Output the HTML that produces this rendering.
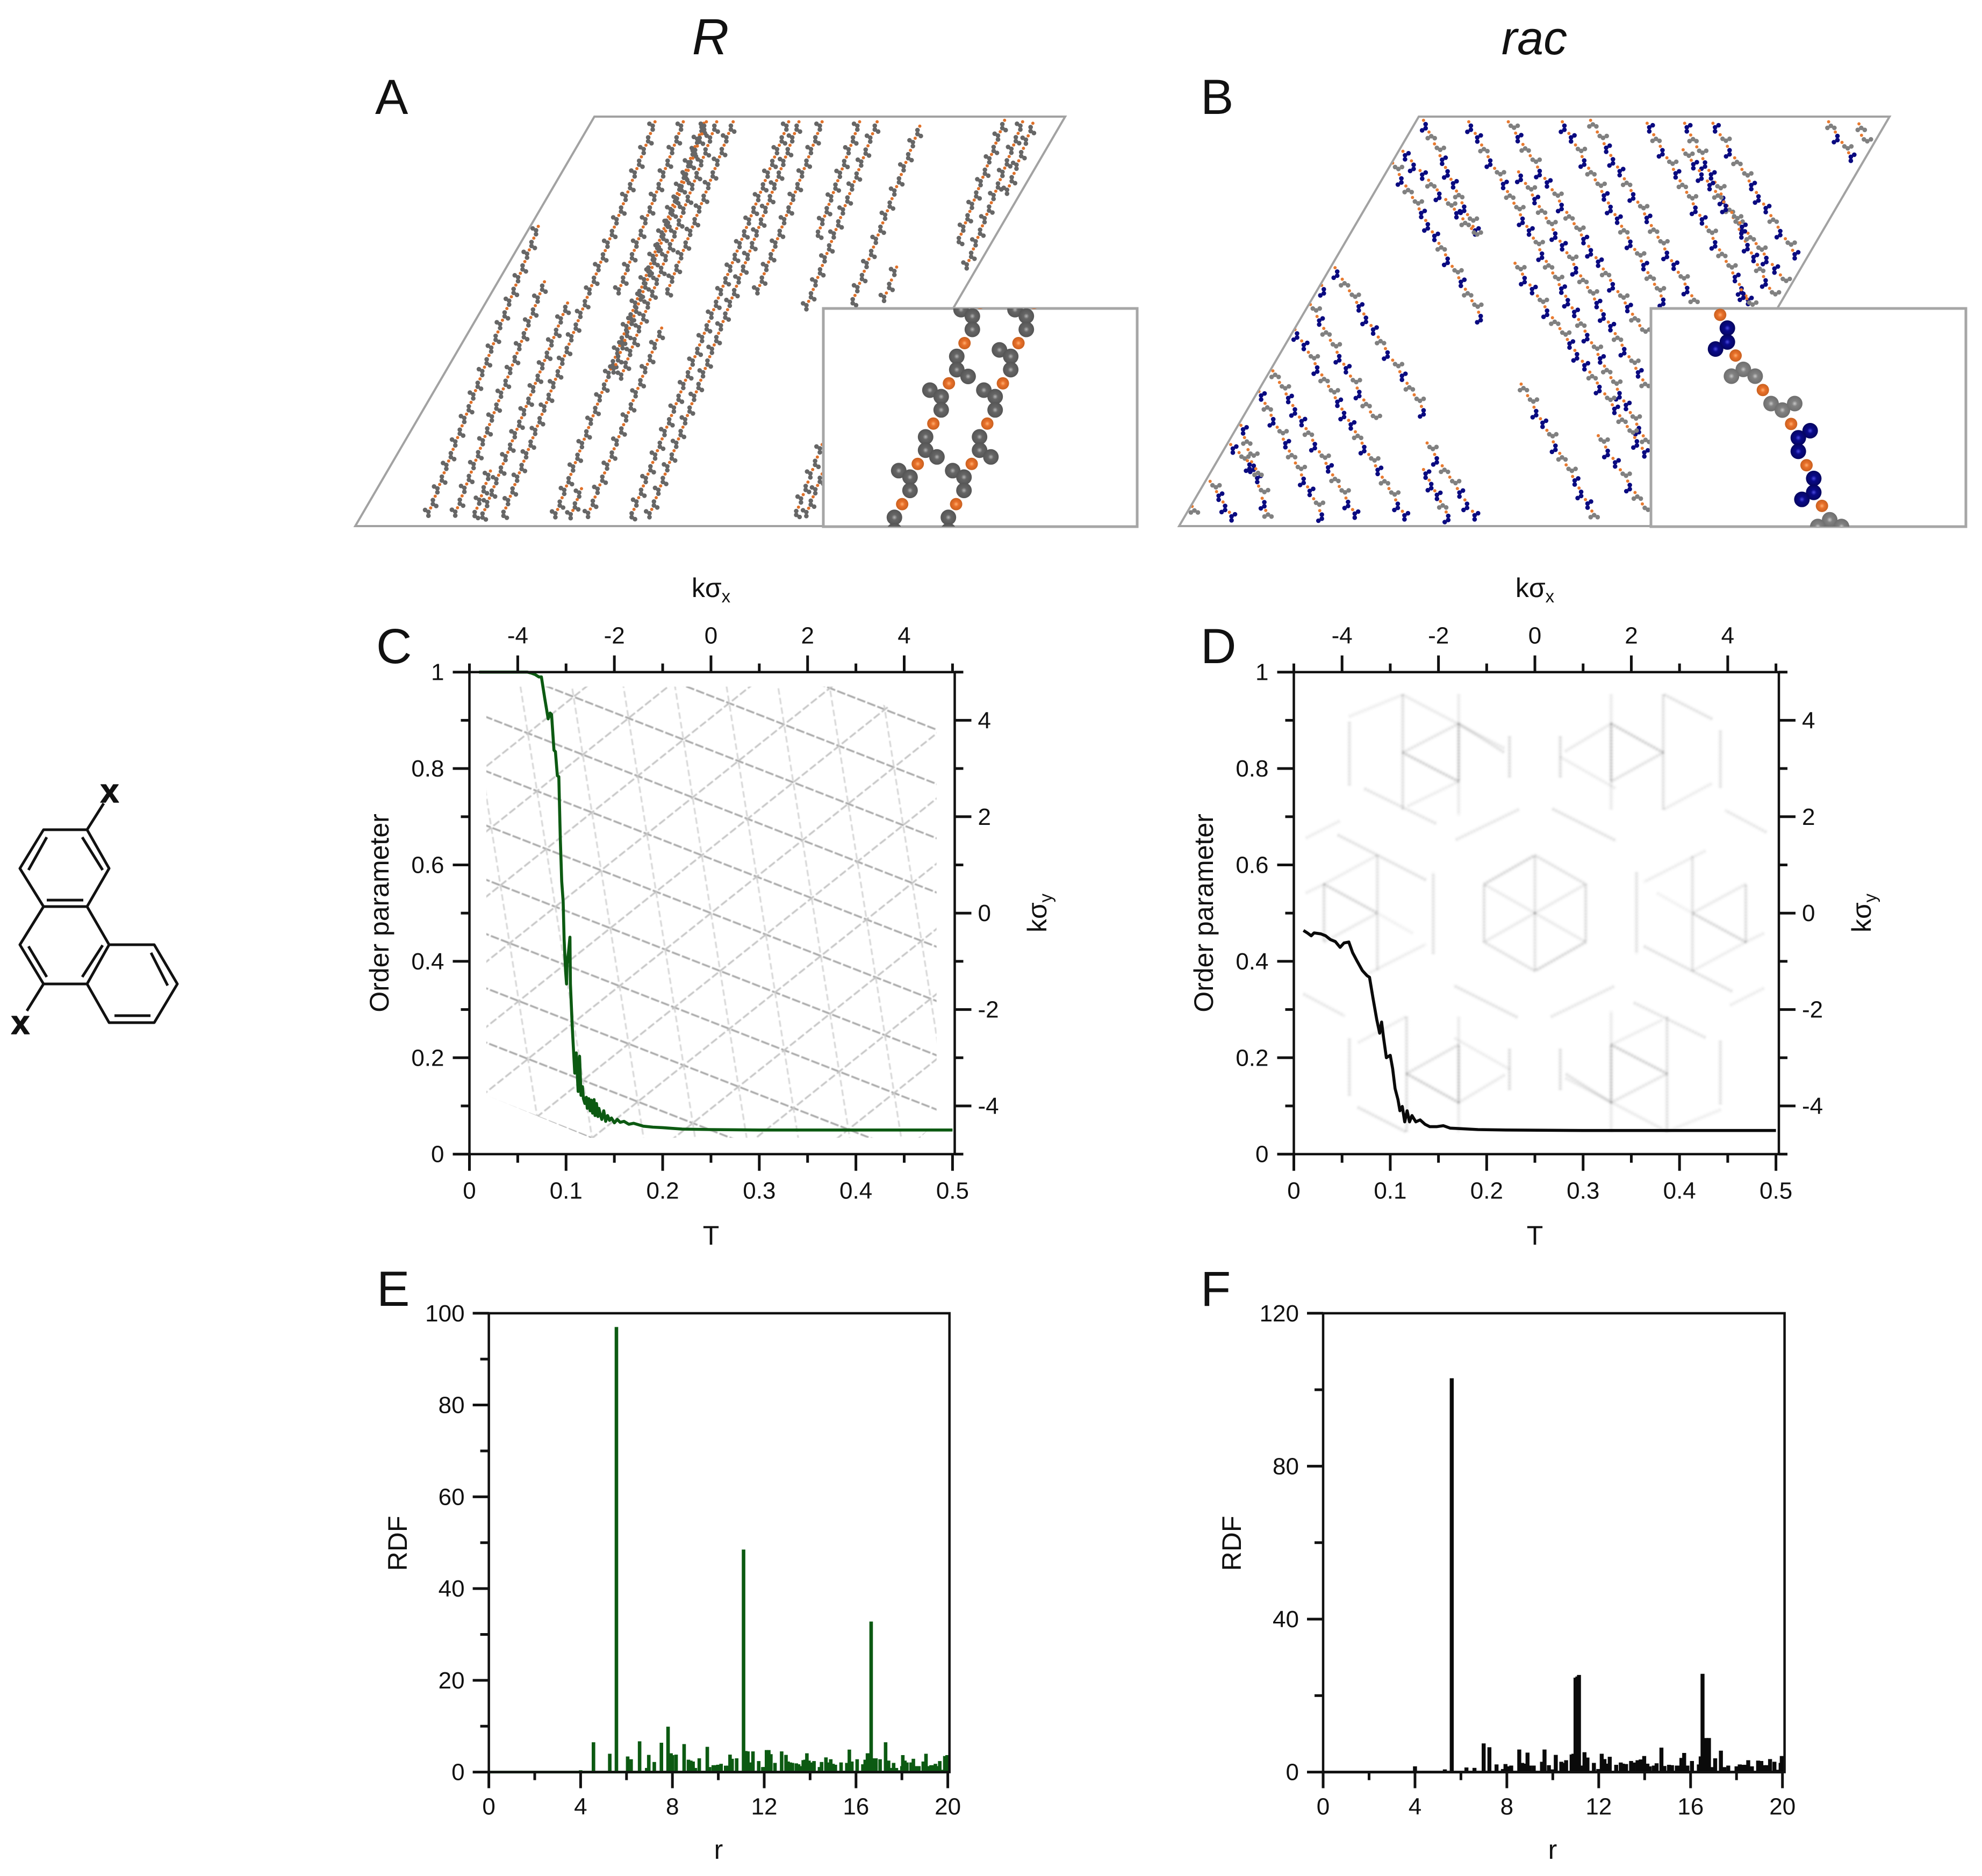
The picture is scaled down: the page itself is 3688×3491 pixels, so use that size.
<!DOCTYPE html>
<html lang="en">
<head>
<meta charset="utf-8">
<title>Order parameter and RDF of R and rac systems</title>
<style>
html,body{margin:0;padding:0;background:#fff;}
svg{display:block;}
text{font-family:"Liberation Sans",sans-serif;fill:#111;}
</style>
</head>
<body>
<svg id="fig" xmlns="http://www.w3.org/2000/svg" width="3688" height="3491" viewBox="0 0 3688 3491">
  <defs>
    <radialGradient id="gGray"><stop offset="0" stop-color="#b5b5b5"/><stop offset=".35" stop-color="#666"/><stop offset="1" stop-color="#555"/></radialGradient>
    <radialGradient id="gLight"><stop offset="0" stop-color="#c8c8c8"/><stop offset=".35" stop-color="#828282"/><stop offset="1" stop-color="#6e6e6e"/></radialGradient>
    <radialGradient id="gOrange"><stop offset="0" stop-color="#ffb070"/><stop offset=".4" stop-color="#e9702a"/><stop offset="1" stop-color="#c9601f"/></radialGradient>
    <radialGradient id="gNavy"><stop offset="0" stop-color="#4a4ae0"/><stop offset=".35" stop-color="#0a0a8a"/><stop offset="1" stop-color="#05055f"/></radialGradient>
    <clipPath id="clipA"><polygon points="1106,217 1982,217 1537,979 661,979"/></clipPath>
    <clipPath id="clipB"><polygon points="2640,217 3516,217 3070,979 2194,979"/></clipPath>
    <clipPath id="clipInsetA"><rect x="1532" y="574" width="584" height="406"/></clipPath>
    <clipPath id="clipInsetB"><rect x="3072" y="574" width="586" height="406"/></clipPath>
    <filter id="soft" x="-5%" y="-5%" width="110%" height="110%"><feGaussianBlur stdDeviation="2.2"/></filter>
    <filter id="softLattice" x="-5%" y="-5%" width="110%" height="110%"><feGaussianBlur stdDeviation="0.9"/></filter>
  </defs>

  <text x="1322" y="101" font-size="95" font-style="italic" text-anchor="middle">R</text>
  <text x="2855" y="101" font-size="88" font-style="italic" text-anchor="middle">rac</text>
  <text x="698" y="212" font-size="92">A</text>
  <text x="2234" y="212" font-size="92">B</text>
  <text x="700" y="1234" font-size="92">C</text>
  <text x="2234" y="1234" font-size="92">D</text>
  <text x="701" y="2430" font-size="92">E</text>
  <text x="2234" y="2430" font-size="92">F</text>

  <g id="molecule" fill="none" stroke="#111" stroke-width="5" stroke-linejoin="round">
    <path d="M81 1544L162 1544L203 1616L162 1687L81 1687L37 1616ZM81 1687L37 1758L81 1831L162 1831L203 1758L162 1687M203 1758L287 1758L330 1831L287 1903L203 1903L162 1831M162 1544L193 1495M81 1831L50 1881"/>
    <path d="M87 1558L53 1619M153 1558L191 1619M87 1675L155 1675M53 1761L87 1818M191 1759L153 1818M281 1773L312 1834M213 1890L280 1890"/>
    <text x="204" y="1493" font-size="62" font-weight="bold" text-anchor="middle" stroke="#111" stroke-width="1.5">x</text>
    <text x="38" y="1924" font-size="62" font-weight="bold" text-anchor="middle" stroke="#111" stroke-width="1.5">x</text>
  </g>

  <g id="panelA">
    <g id="chainsA" clip-path="url(#clipA)"></g>
    <polygon points="1106,217 1982,217 1537,979 661,979" fill="none" stroke="#a2a2a2" stroke-width="4"/>
    <rect x="1532" y="574" width="584" height="406" fill="#fff" stroke="#a6a6a6" stroke-width="5"/>
    <g id="insetA" clip-path="url(#clipInsetA)"></g>
  </g>
  <g id="panelB">
    <g id="chainsB" clip-path="url(#clipB)"></g>
    <polygon points="2640,217 3516,217 3070,979 2194,979" fill="none" stroke="#a2a2a2" stroke-width="4"/>
    <rect x="3072" y="574" width="586" height="406" fill="#fff" stroke="#a6a6a6" stroke-width="5"/>
    <g id="insetB" clip-path="url(#clipInsetB)"></g>
  </g>

  <g id="panelC"></g>
  <g id="panelD"></g>
  <g id="panelE"></g>
  <g id="panelF"></g>

  <g font-size="50">
    <text x="1323" y="1111" text-anchor="middle">kσ<tspan font-size="33" dy="10">x</tspan></text>
    <text x="2856" y="1111" text-anchor="middle">kσ<tspan font-size="33" dy="10">x</tspan></text>
    <text x="1323" y="2316" text-anchor="middle">T</text>
    <text x="2856" y="2316" text-anchor="middle">T</text>
    <text transform="translate(723,1699) rotate(-90)" text-anchor="middle">Order parameter</text>
    <text transform="translate(2257,1699) rotate(-90)" text-anchor="middle">Order parameter</text>
    <text transform="translate(1947,1699) rotate(-90)" text-anchor="middle">kσ<tspan font-size="33" dy="10">y</tspan></text>
    <text transform="translate(3481,1699) rotate(-90)" text-anchor="middle">kσ<tspan font-size="33" dy="10">y</tspan></text>
    <text x="1337" y="3459" text-anchor="middle">r</text>
    <text x="2889" y="3459" text-anchor="middle">r</text>
    <text transform="translate(757,2872) rotate(-90)" text-anchor="middle">RDF</text>
    <text transform="translate(2309,2872) rotate(-90)" text-anchor="middle">RDF</text>
  </g>
</svg>

<script>
// ---------- chart data ----------
const tempTicks = [0, 0.1, 0.2, 0.3, 0.4, 0.5];
const tempMinorTicks = [0.05, 0.15, 0.25, 0.35, 0.45];
const orderTicks = [0, 0.2, 0.4, 0.6, 0.8, 1];
const orderMinorTicks = [0.1, 0.3, 0.5, 0.7, 0.9];
const waveTicks = [-4, -2, 0, 2, 4];
const waveMinorTicks = [-5, -3, -1, 1, 3, 5];
const radiusTicks = [0, 4, 8, 12, 16, 20];
const radiusMinorTicks = [2, 6, 10, 14, 18];
const rdfTicksE = [0, 20, 40, 60, 80, 100];
const rdfMinorTicksE = [10, 30, 50, 70, 90];
const rdfTicksF = [0, 40, 80, 120];
const rdfMinorTicksF = [20, 60, 100];

const temperatureC = [.01,.06,.064,.068,.072,.0745,.078,.0815,.0835,.085,.0875,.089,.091,.0925,.094,.0955,.097,.098,.0995,.1005,.101,.1025,.104,.1045,.1065,.109,.1105,.1125,.114,.1155,.117,.118,.1195,.121,.122,.1235,.125,.126,.1275,.129,.13,.1315,.133,.134,.1355,.137,.139,.141,.143,.145,.147,.15,.153,.156,.16,.165,.17,.18,.19,.2,.22,.25,.3,.4,.5];
const orderC = [1,1,.998,.995,.99,.99,.945,.903,.915,.912,.838,.835,.785,.783,.658,.566,.524,.445,.38,.353,.395,.418,.45,.353,.26,.168,.21,.13,.203,.122,.14,.115,.105,.118,.095,.115,.09,.112,.085,.113,.08,.105,.078,.095,.082,.072,.09,.068,.08,.07,.075,.065,.072,.066,.068,.062,.064,.058,.056,.055,.052,.051,.05,.05,.05];

const temperatureD = [.01,.014,.018,.021,.028,.033,.038,.043,.048,.052,.057,.061,.066,.071,.076,.0785,.082,.086,.089,.091,.093,.096,.1,.1025,.105,.108,.11,.1125,.115,.1175,.12,.1225,.1265,.131,.136,.141,.148,.155,.162,.172,.191,.22,.3,.5];
const orderD = [.464,.459,.453,.459,.457,.453,.445,.441,.429,.438,.44,.418,.399,.381,.37,.367,.325,.279,.251,.274,.242,.2,.205,.177,.136,.113,.09,.099,.067,.09,.067,.08,.067,.071,.062,.057,.057,.059,.054,.053,.051,.05,.049,.049];

const radiusE = [4.0,4.56,5.27,5.56,6.05,6.2,6.57,6.88,6.97,7.21,
  7.52,7.81,7.94,8.0,8.16,8.51,8.7,8.8,8.9,9.0,
  9.17,9.52,9.62,9.78,9.88,9.98,10.12,10.32,10.42,10.51,
  10.6,10.8,11.1,11.2,11.29,11.39,11.51,11.76,11.94,12.02,
  12.1,12.2,12.29,12.47,12.76,12.95,13.04,13.14,13.23,13.4,
  13.5,13.58,13.7,13.78,13.86,13.95,14.05,14.17,14.41,14.5,
  14.69,14.78,14.9,15.0,15.1,15.35,15.6,15.71,15.82,16.05,
  16.3,16.4,16.5,16.57,16.66,16.8,16.87,17.05,17.29,17.42,
  17.52,17.64,17.76,17.9,18.0,18.04,18.13,18.22,18.4,18.5,
  18.64,18.74,18.93,19.05,19.17,19.27,19.38,19.46,19.55,19.65,
  19.77,19.87,19.97];
const rdfE = [0.4,6.5,4.0,97,3.4,2.8,6.7,0.9,3.75,2.2,
  6.4,9.9,4.1,3.7,3.8,6.1,2.7,2.5,2.3,0.9,
  3.0,5.5,1.1,1.5,1.5,1.6,1.8,1.4,1.4,3.8,
  2.9,3.0,48.5,4.6,4.5,2.1,4.5,2.4,1.1,1.1,
  4.8,4.8,3.9,2.0,4.5,3.75,2.3,2.1,2.0,1.9,
  1.7,1.3,2.6,2.7,4.1,2.5,2.1,2.4,1.1,2.2,
  3.2,2.1,2.8,1.8,1.6,2.1,2.0,4.9,2.3,2.8,
  1.7,2.7,4.1,4.1,32.8,3.0,3.0,2.8,6.5,2.5,
  0.9,2.0,0.9,0.4,1.3,3.7,2.5,2.1,2.1,2.9,
  1.3,1.3,2.3,4.0,1.3,1.5,1.5,1.8,1.3,2.4,
  0.5,3.5,3.7];

const radiusF = [4.0,4.39,4.58,5.3,5.6,6.24,6.59,6.99,7.24,7.55,
  7.83,7.94,8.03,8.19,8.54,8.67,8.77,8.9,9.0,9.17,
  9.53,9.64,9.83,9.97,10.13,10.37,10.44,10.58,10.82,10.9,
  10.99,11.07,11.14,11.25,11.38,11.51,11.79,11.98,12.13,12.25,
  12.32,12.48,12.76,12.96,13.05,13.19,13.41,13.52,13.69,13.83,
  13.98,14.12,14.22,14.4,14.52,14.73,14.86,15.06,15.19,15.4,
  15.49,15.6,15.72,15.86,16.06,16.36,16.44,16.52,16.67,16.8,
  16.93,17.07,17.32,17.47,17.64,18.0,18.14,18.27,18.4,18.51,
  18.67,18.94,19.08,19.21,19.32,19.46,19.65,19.81,19.92,19.97];
const rdfF = [1.5,0.3,0.3,0.7,103,1.2,1.1,7.5,6.5,2.0,
  0.8,2.1,1.5,1.7,5.9,2.4,2.2,5.1,1.7,1.7,
  2.7,5.9,1.8,0.7,4.5,2.7,2.4,3.1,4.6,4.8,
  24.7,25,25.4,1.7,5.2,3.8,2.4,0.8,4.8,3.4,
  2.2,4.0,1.9,2.5,2.2,2.1,2.9,2.5,3.1,3.3,
  4.2,2.2,1.5,1.7,2.3,6.4,1.6,1.9,1.8,1.7,
  1.7,3.7,5.0,1.7,2.9,2.0,4.1,25.7,8.9,8.9,
  1.3,3.6,5.6,1.3,1.7,1.5,2.0,1.9,1.9,3.1,
  1.5,3.0,2.9,1.8,1.8,3.4,2.7,0.6,2.4,4.2];

// scattering pattern of panel D: half-plane streak list in lattice units (i1,j1,i2,j2,strength); the other half is point-symmetric
const streaksD = [
  [0,2,2,1,.6],[2,1,2,-1,.7],[2,-1,0,-2,.8],[0,0,0,2,.6],[0,0,2,1,.45],[0,0,2,-1,.45],
  [4,1.4,4,-1.4,.6],[-3.1,2.54,-.6,3.6,.5],[.7,3.6,3.2,2.5,.6],
  [-7.75,2.7,-4.3,1.15,.6],[-9,2.6,-7.65,3.2,.4],[-6.7,-2.15,-4.3,-1.08,.4],[-9.1,-2.8,-7.5,-3.55,.5],
  [-8.3,1,-8.3,-1,.7],[-8.3,1,-6.2,0,.8],[-8.3,-1,-6.2,0,.45],[-6.2,2,-6.2,-2,.6],[-8.3,1,-6.2,2,.4],[-9,.7,-8.3,1,.4],[-6.2,0,-4.8,-.7,.3],
  [-5.2,5.55,-3,6.55,.55],[-3,6.55,-3,4.55,.9],[-5.2,5.55,-3,4.55,.9],[-5.2,7.55,-5.2,3.55,.65],[-3,7.55,-3,3.4,.45],[-3,6.55,-1.2,5.55,.6],[-5.2,7.55,-1.2,5.7,.45],[-7.3,6.8,-5.2,7.55,.35],[-7.3,6.6,-7.3,4.4,.6],[-1,6.1,-1,4.7,.7],[-5,3.7,-3,4.55,.4],[-6.7,4.3,-3.9,3.1,.55],
  [3,6.55,3,4.55,.9],[3,6.55,5.05,5.55,.9],[3,4.55,5.05,5.55,.6],[5.05,7.55,5.05,3.55,.65],[3,7.55,3,3.6,.45],[1,6.1,1,4.7,.7],[1.2,5.6,3,6.55,.45],[5.1,7.55,7,6.7,.6],[7.3,6.3,7.3,4.3,.6],[1,5.4,3.2,4.3,.4],[5.1,3.6,7,4.5,.4]
];

// ---------- helpers ----------
const NS = 'http://www.w3.org/2000/svg';
function make(parent, tag, attrs) {
  const el = document.createElementNS(NS, tag);
  for (const k in attrs) el.setAttribute(k, attrs[k]);
  parent.appendChild(el);
  return el;
}
const INK = '#111';

function drawFrame(g, b, tag) {
  const el = make(g, 'rect', {x: b.left, y: b.top, width: b.right - b.left, height: b.bottom - b.top, fill: 'none', stroke: INK, 'stroke-width': 4.5});
  
  
}
function tick(g, x1, y1, x2, y2, name) {
  const el = make(g, 'line', {x1: x1, y1: y1, x2: x2, y2: y2, stroke: INK, 'stroke-width': 5});
  
  
}
function label(g, x, y, str, anchor, name) {
  const el = make(g, 'text', {x: x, y: y, 'font-size': 44, 'text-anchor': anchor});
  el.textContent = str;
  
  
}

// ---------- order parameter panels ----------
function drawOrderPanel(id, tag, b, temps, orders, color, pattern) {
  const g = document.getElementById(id);
  const xT = t => b.left + (t / 0.5) * (b.x05 - b.left);
  const yV = v => b.bottom - v * (b.bottom - b.top);
  const xK = k => xT((k + 5) / 20);
  const yK = k => yV((k + 5) / 10);
  pattern(g, xK, yK);

  let d = '';
  temps.forEach((t, i) => { d += (i ? 'L' : 'M') + xT(t).toFixed(1) + ' ' + yV(orders[i]).toFixed(1); });
  const line = make(g, 'path', {d: d, fill: 'none', stroke: color, 'stroke-width': 5.6, 'stroke-linejoin': 'round'});
  
  

  drawFrame(g, b, tag);
  const M = 31, m = 16;
  tempTicks.forEach(t => {
    tick(g, xT(t), b.bottom, xT(t), b.bottom + M, 'x-tick');
    label(g, xT(t), b.bottom + 83, String(t), 'middle', 'x-tick-label');
  });
  tempMinorTicks.forEach(t => tick(g, xT(t), b.bottom, xT(t), b.bottom + m, 'x-minor-tick'));
  orderTicks.forEach(v => {
    tick(g, b.left - M, yV(v), b.left, yV(v), 'y-tick');
    label(g, b.left - 47, yV(v) + 15, String(v), 'end', 'y-tick-label');
  });
  orderMinorTicks.forEach(v => tick(g, b.left - m, yV(v), b.left, yV(v), 'y-minor-tick'));
  waveTicks.forEach(k => {
    tick(g, xK(k), b.top - M, xK(k), b.top, 'top-x-tick');
    label(g, xK(k), b.top - 53, String(k), 'middle', 'top-x-tick-label');
    tick(g, b.right, yK(k), b.right + M, yK(k), 'right-y-tick');
    label(g, b.right + 43, yK(k) + 15, String(k), 'start', 'right-y-tick-label');
  });
  waveMinorTicks.forEach(k => {
    tick(g, xK(k), b.top - m, xK(k), b.top, 'top-x-minor-tick');
    tick(g, b.right, yK(k), b.right + m, yK(k), 'right-y-minor-tick');
  });
}

function latticePattern(g, xK, yK) {
  const clip = make(document.querySelector('defs'), 'clipPath', {id: 'clipLattice'});
  const corners = [[-4.65,4.35],[-4.22,4.7],[2.61,4.7],[4.67,3.89],[4.67,-4.33],[4.33,-4.66],[-2.5,-4.66],[-4.65,-3.78]];
  make(clip, 'polygon', {points: corners.map(c => xK(c[0]).toFixed(1) + ',' + yK(c[1]).toFixed(1)).join(' ')});
  const layer = make(g, 'g', {'clip-path': 'url(#clipLattice)', fill: 'none'});
  
  
  const soft = make(layer, 'g', {filter: 'url(#softLattice)'});
  
  
  const a = [1.137, -0.444], b = [-0.19, 1.2], c = [a[0] + b[0], a[1] + b[1]];
  const families = [
    {dir: a, step: b, color: '#a8a8a8', dash: '16 4', width: 3.4},
    {dir: b, step: a, color: '#d6d6d6', dash: '12 6', width: 3},
    {dir: c, step: a, color: '#c4c4c4', dash: '14 5', width: 3.2}
  ];
  families.forEach(f => {
    for (let n = -10; n <= 10; n++) {
      const p = [n * f.step[0], n * f.step[1]];
      const s = make(soft, 'line', {
        x1: xK(p[0] - 12 * f.dir[0]), y1: yK(p[1] - 12 * f.dir[1]),
        x2: xK(p[0] + 12 * f.dir[0]), y2: yK(p[1] + 12 * f.dir[1]),
        stroke: f.color, 'stroke-width': f.width, 'stroke-dasharray': f.dash
      });
      
      
    }
  });
}

function hexPattern(g, xK, yK) {
  const layer = make(g, 'g', {fill: 'none', stroke: '#5c5c5c', 'stroke-width': 4.5, 'stroke-dasharray': '3 3', filter: 'url(#soft)'});
  
  
  const U = 0.527, V = 0.6;
  [1, -1].forEach(sign => {
    streaksD.forEach(s => {
      const el = make(layer, 'line', {
        x1: xK(sign * s[0] * U), y1: yK(sign * s[1] * V),
        x2: xK(sign * s[2] * U), y2: yK(sign * s[3] * V),
        'stroke-opacity': (s[4] * 0.6).toFixed(2)
      });
      
      
    });
  });
}

// ---------- RDF panels ----------
function drawRdfPanel(id, tag, b, rs, vs, yMax, major, minor, color, barWidth) {
  const g = document.getElementById(id);
  const xR = r => b.left + (r / 20) * (b.x20 - b.left);
  const yR = v => b.bottom - (v / yMax) * (b.bottom - b.top);
  const base = make(g, 'line', {x1: xR(0), y1: yR(0), x2: xR(20), y2: yR(0), stroke: color, 'stroke-width': 5});
  
  
  rs.forEach((r, i) => {
    const bar = make(g, 'line', {x1: xR(r), y1: yR(0), x2: xR(r), y2: yR(vs[i]), stroke: color, 'stroke-width': barWidth});
    
    
  });
  drawFrame(g, b, tag);
  radiusTicks.forEach(r => {
    tick(g, xR(r), b.bottom, xR(r), b.bottom + 30, 'x-tick');
    label(g, xR(r), b.bottom + 79, String(r), 'middle', 'x-tick-label');
  });
  radiusMinorTicks.forEach(r => tick(g, xR(r), b.bottom, xR(r), b.bottom + 15, 'x-minor-tick'));
  major.forEach(v => {
    tick(g, b.left - 30, yR(v), b.left, yR(v), 'y-tick');
    label(g, b.left - 45, yR(v) + 15, String(v), 'end', 'y-tick-label');
  });
  minor.forEach(v => tick(g, b.left - 16, yR(v), b.left, yR(v), 'y-minor-tick'));
}

// ---------- molecular chains (panels A and B) ----------
const motifR = {
  L: [[-35.4,12.6],[-14.4,24.7],[-14.4,49.4]],
  R: [[-14.4,24.7],[-14.4,49.4],[6.7,62]]
};
const motifRac = {
  N1: {a: [[13.4,24.7],[13.4,50.5],[-8.6,63.6]], next: [28.7,75.7], kind: 'navy'},
  G1: {a: [[14.4,25.8],[-7.7,38.4],[36.4,38.4]], next: [50.7,64.2], kind: 'gray'},
  G2: {a: [[15.3,25.2],[36.4,37.3],[59.3,25.2]], next: [52.6,63.1], kind: 'gray'},
  N2: {a: [[35.4,12.6],[13.4,25.8],[13.4,51]], next: [28.7,76.8], kind: 'navy'}
};
const orderRac = ['N1','G1','G2','N2','N1','N2','G1','N1','G2','N2','G1','G2','N1','N2','G2'];
const chainsA = [[160,1435,378,440],[212,1435,390,628],[250,1438,285,1270],[265,1440,435,700],[306,1435,605,85],[407,1440,700,90],[437,1440,462,1330],[470,1440,618,785],[555,1440,865,85],[590,1440,885,85],[530,680,660,85],[535,970,725,85],[520,950,705,85],[625,680,757,85],[800,680,930,85],[895,735,1037,85],[918,485,1003,85],[985,715,1120,100],[1045,710,1075,578],[1192,505,1285,80],[1207,595,1320,85],[1285,345,1340,90],[875,1435,930,1180],[895,1435,930,1280]];
const chainsB = [[490,80,597,480],[578,85,930,1190],[655,85,925,815],[760,85,965,715],[815,80,1025,715],[925,90,1130,715],[998,90,1175,690],[1053,90,1222,560],[995,180,1200,640],[1278,85,1330,225],[1337,92,1347,170],[430,225,610,770],[450,185,600,480],[675,255,930,1000],[668,565,930,1230],[318,580,500,1090],[292,640,305,680],[270,705,400,1110],[240,790,462,1445],[197,930,365,1440],[170,1000,300,1445],[135,1115,190,1445],[115,1180,180,1290],[75,1305,125,1445],[40,1390,57,1425],[680,975,830,1445],[497,1175,600,1445],[490,1265,545,1445],[1108,655,1130,715],[830,1150,930,1420]];

function atom(parent, x, y, r, fill, name) {
  const el = make(parent, 'circle', {cx: x.toFixed(1), cy: y.toFixed(1), r: r, fill: fill});
  
  
}
const SCALE = 0.294;

function drawChainsA() {
  const g = document.getElementById('chainsA');
  const fx = z => 640 + z / 1.0453, fy = z => 180 + z / 1.8233;
  chainsA.forEach((c, ci) => {
    const x0 = fx(c[2]), y0 = fy(c[3]), x1 = fx(c[0]), y1 = fy(c[1]);
    const len = Math.hypot(x1 - x0, y1 - y0), n = Math.max(1, Math.round(len / 23.6));
    for (let i = 0; i < n; i++) {
      const px = x0 + (x1 - x0) * i / n, py = y0 + (y1 - y0) * i / n;
      atom(g, px, py, 3, '#e07028', 'bridge-atom');
      const m = ((i + ci) % 2 === 0) ? motifR.L : motifR.R;
      m.forEach(o => atom(g, px + o[0] * SCALE, py + o[1] * SCALE, 4.3, '#666', 'ring-atom'));
    }
  });
}
function drawChainsB() {
  const g = document.getElementById('chainsB');
  const fx = z => 2180 + z / 1.0453, fy = z => 180 + z / 1.8233;
  chainsB.forEach((c, ci) => {
    const x0 = fx(c[0]), y0 = fy(c[1]), x1 = fx(c[2]), y1 = fy(c[3]);
    const len = Math.hypot(x1 - x0, y1 - y0), n = Math.max(1, Math.round(len / 24.5));
    for (let i = 0; i < n; i++) {
      const px = x0 + (x1 - x0) * i / n, py = y0 + (y1 - y0) * i / n;
      atom(g, px, py, 3, '#e87a30', 'bridge-atom');
      const m = motifRac[orderRac[(i + ci * 4) % orderRac.length]];
      m.a.forEach(o => atom(g, px + o[0] * SCALE, py + o[1] * SCALE, 4.3, m.kind === 'navy' ? '#0a0a80' : '#808080', m.kind === 'navy' ? 'navy-ring-atom' : 'gray-ring-atom'));
    }
  });
}
function drawInsets() {
  const ga = document.getElementById('insetA');
  const seqs = [['L','R','L','R','L','R'], ['L','L','L','R','L','R']];
  seqs.forEach((seq, s) => {
    let x = 1794.7 + 29 + s * 100.4, y = 638.5 - 74.9;
    seq.forEach(t => {
      atom(ga, x, y, 11.5, 'url(#gOrange)', 'inset-bridge-atom');
      motifR[t].forEach(o => atom(ga, x + o[0], y + o[1], 14.5, 'url(#gGray)', 'inset-ring-atom'));
      x -= 29; y += 74.9;
    });
  });
  const gb = document.getElementById('insetB');
  let x = 3200.8, y = 585.9;
  ['N1','G1','G2','N2','N1','G1'].forEach(t => {
    const m = motifRac[t];
    atom(gb, x, y, 11.5, 'url(#gOrange)', 'inset-bridge-atom');
    m.a.forEach(o => atom(gb, x + o[0], y + o[1], 14.5, m.kind === 'navy' ? 'url(#gNavy)' : 'url(#gLight)', 'inset-ring-atom'));
    x += m.next[0]; y += m.next[1];
  });
}

// ---------- draw everything ----------
drawChainsA();
drawChainsB();
drawInsets();
drawOrderPanel('panelC', 'c', {left: 873.5, right: 1776.5, x05: 1772.4, top: 1250.7, bottom: 2147.7}, temperatureC, orderC, '#0c5a12', latticePattern);
drawOrderPanel('panelD', 'd', {left: 2407.5, right: 3310, x05: 3304.6, top: 1250.7, bottom: 2147.7}, temperatureD, orderD, '#0a0a0a', hexPattern);
drawRdfPanel('panelE', 'e', {left: 909.6, right: 1766.7, x20: 1763.6, top: 2443.8, bottom: 3297.6}, radiusE, rdfE, 100, rdfTicksE, rdfMinorTicksE, '#0c5a12', 6.6);
drawRdfPanel('panelF', 'f', {left: 2462, right: 3320.6, x20: 3316.7, top: 2443.8, bottom: 3297.6}, radiusF, rdfF, 120, rdfTicksF, rdfMinorTicksF, '#0a0a0a', 7.4);
</script>
</body>
</html>
